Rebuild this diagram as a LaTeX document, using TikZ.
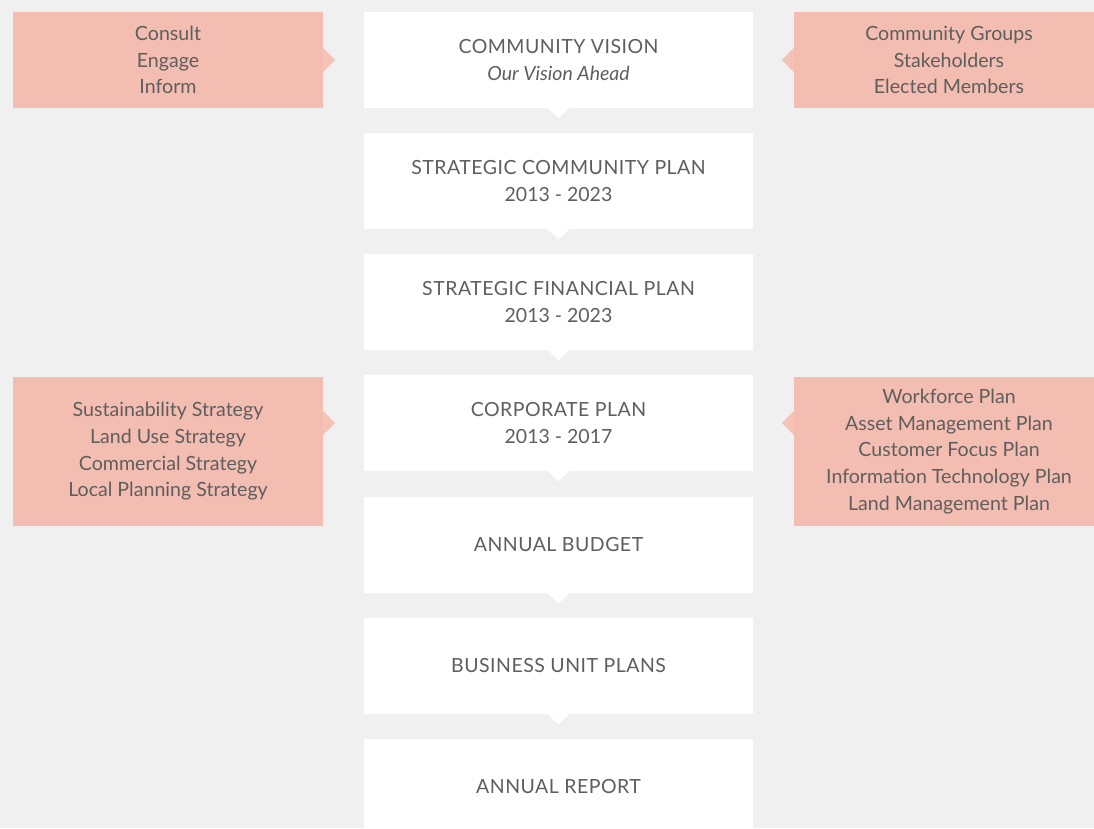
\documentclass[tikz,border=0pt]{standalone}
\usepackage{fontspec}
\setmainfont{Lato}
\newfontfamily\capsfont[LetterSpace=2.5]{Lato}
\definecolor{bg}{HTML}{F0F0F0}
\definecolor{pink}{HTML}{F4BDB1}
\definecolor{pinktip}{HTML}{F5C2B6}
\definecolor{txt}{HTML}{5E5E5E}
\tikzset{
  stage/.style={fill=white, minimum width=389pt, minimum height=96pt, inner sep=0pt,
    align=center, text=txt, font=\fontsize{19.5}{27}\selectfont},
  side/.style={fill=pink, minimum width=310pt, inner sep=0pt,
    align=center, text=txt, font=\fontsize{19.6}{26.7}\selectfont},
  downtip/.style={fill=white},
  sidetip/.style={fill=pinktip}
}
\newcommand{\stagecaps}[1]{{\capsfont #1}}
\begin{document}
\begin{tikzpicture}[x=1pt,y=-1pt]
\fill[bg] (0,0) rectangle (1094,828);
\useasboundingbox (0,0) rectangle (1094,828);

% main column of planning stages
\node[stage] (s1) at (558.5,60) {\stagecaps{COMMUNITY VISION}\\\textit{Our Vision Ahead}};
\node[stage] (s2) at (558.5,181) {\stagecaps{STRATEGIC COMMUNITY PLAN}\\2013 - 2023};
\node[stage] (s3) at (558.5,302) {\stagecaps{STRATEGIC FINANCIAL PLAN}\\2013 - 2023};
\node[stage] (s4) at (558.5,423) {\stagecaps{CORPORATE PLAN}\\2013 - 2017};
\node[stage] (s5) at (558.5,545) {\stagecaps{ANNUAL BUDGET}};
\node[stage] (s6) at (558.5,666) {\stagecaps{BUSINESS UNIT PLANS}};
\node[stage] (s7) at (558.5,787) {\stagecaps{ANNUAL REPORT}};

% small pointers from each stage to the next
\foreach \a/\b in {s1/s2,s2/s3,s3/s4,s4/s5,s5/s6,s6/s7}{
  \fill[downtip] ([xshift=-11pt]\a.south) -- ([xshift=11pt]\a.south)
     -- ([yshift=-10pt]\a.south) -- cycle;
}

% input boxes on either side
\node[side, minimum height=96pt] (l1) at (168,60) {Consult\\Engage\\Inform};
\node[side, minimum height=96pt] (r1) at (949,60) {Community Groups\\Stakeholders\\Elected Members};
\node[side, minimum height=149pt] (l4) at (168,451.5)
  {Sustainability Strategy\\Land Use Strategy\\Commercial Strategy\\Local Planning Strategy};
\node[side, minimum height=149pt] (r4) at (949,451.5)
  {Workforce Plan\\Asset Management Plan\\Customer Focus Plan\\Information Technology Plan\\Land Management Plan};

% pointers from the side boxes toward the stages
\fill[sidetip] (l1.east |- s1.center) ++(0,12) -- ++(12,-12) -- ++(-12,-12) -- cycle;
\fill[sidetip] (r1.west |- s1.center) ++(0,12) -- ++(-12,-12) -- ++(12,-12) -- cycle;
\fill[sidetip] (l4.east |- s4.center) ++(0,12) -- ++(12,-12) -- ++(-12,-12) -- cycle;
\fill[sidetip] (r4.west |- s4.center) ++(0,12) -- ++(-12,-12) -- ++(12,-12) -- cycle;
\end{tikzpicture}
\end{document}
